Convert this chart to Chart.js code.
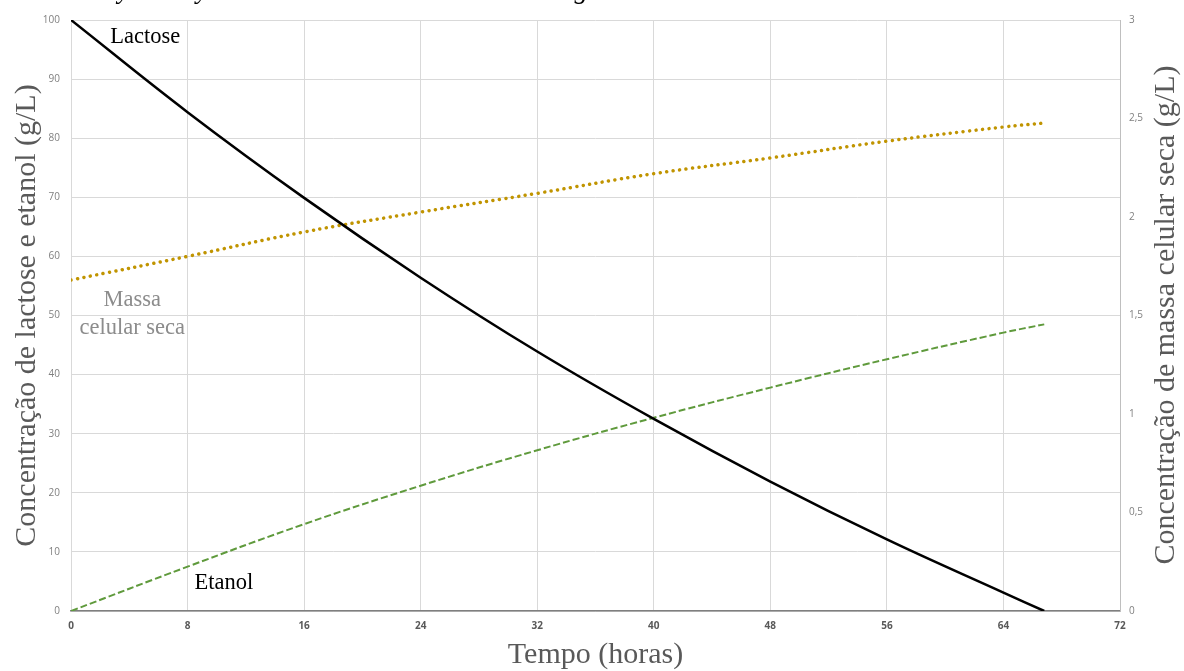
<!DOCTYPE html>
<html>
<head>
<meta charset="utf-8">
<script src="https://cdn.jsdelivr.net/npm/chart.js@4/dist/chart.umd.min.js"></script>
<style>
  html, body { margin: 0; padding: 0; background: #fff; }
  #wrap { width: 1184px; height: 671px; position: relative; }
</style>
</head>
<body>
<div id="wrap"><canvas id="grafico"></canvas></div>
<script>
// dados
var tempo = [0, 8, 16, 24, 32, 40, 48, 56, 64, 66.8];
var lactose = [100, 84.4, 69.9, 56.4, 43.9, 32.5, 21.9, 12.1, 3.1, 0];
var etanol = [0, 7.5, 14.7, 21.2, 27.2, 32.7, 37.8, 42.6, 47.1, 48.5];
var massaSeca = [1.68, 1.80, 1.924, 2.025, 2.12, 2.22, 2.30, 2.385, 2.457, 2.477];

var ticksTempo = [0, 8, 16, 24, 32, 40, 48, 56, 64, 72];

var titulo = "Kluyveromyces marxianus CCT 4086 em 100 g/L de substrato de soro de leite e lactose";
var rotulos = [
	{ texto: "Lactose", x: 5.1, y: 97.1, cor: "#000" },
	{ texto: "Massa", x: 4.2, y: 52.6, cor: "#8c8c8c" },
	{ texto: "celular seca", x: 4.2, y: 47.9, cor: "#8c8c8c" },
	{ texto: "Etanol", x: 10.5, y: 4.8, cor: "#000" }
];

function pares(xs, ys){
	return xs.map(function(x, i){ return { x: x, y: ys[i] }; });
}

var serif = "'Liberation Serif', 'Times New Roman', serif";

// textos extras: titulo cortado, rotulos das curvas, titulo do eixo direito
var textos = {
	id: "textos",
	afterDraw: function(chart){
		var c = chart.ctx;
		var sx = chart.scales.x, sy = chart.scales.y;
		c.save();
		c.textAlign = "center";
		c.textBaseline = "middle";
		c.font = "22.5px " + serif;
		rotulos.forEach(function(r){
			c.fillStyle = r.cor;
			c.fillText(r.texto, sx.getPixelForValue(r.x), sy.getPixelForValue(r.y));
		});

		// titulo do grafico, quase todo fora da area visivel
		c.font = "italic 27px " + serif;
		c.fillStyle = "#000";
		c.textAlign = "left";
		c.textBaseline = "alphabetic";
		c.fillText(titulo, 118 - c.measureText("Klu").width, -2);

		// titulo do eixo da direita, lido de baixo para cima
		c.font = "30px " + serif;
		c.fillStyle = "#595959";
		c.textAlign = "center";
		c.textBaseline = "middle";
		c.translate(1166, 315);
		c.rotate(-Math.PI / 2);
		c.fillText("Concentração de massa celular seca (g/L)", 0, 0);
		c.restore();
	}
};

var ctx = document.getElementById("grafico");

var grafico = new Chart(ctx, {
	type: "line",
	data: {
		datasets: [
			{
				label: "Lactose",
				data: pares(tempo, lactose),
				borderColor: "#000",
				borderWidth: 2.5,
				pointRadius: 0,
				tension: 0.4,
				yAxisID: "y"
			},
			{
				label: "Etanol",
				data: pares(tempo, etanol),
				borderColor: "#5f9a3c",
				borderWidth: 2,
				borderDash: [7, 3],
				pointRadius: 0,
				tension: 0.4,
				yAxisID: "y"
			},
			{
				label: "Massa celular seca",
				data: pares(tempo, massaSeca),
				borderColor: "#c09400",
				borderWidth: 3.5,
				borderDash: [0.01, 6.5],
				borderCapStyle: "round",
				pointRadius: 0,
				tension: 0.4,
				yAxisID: "y1"
			}
		]
	},
	options: {
		responsive: true,
		maintainAspectRatio: false,
		animation: false,
		layout: { padding: { top: 20, left: 0, right: 0, bottom: 0 } },
		plugins: {
			legend: { display: false },
			tooltip: { enabled: false }
		},
		scales: {
			x: {
				type: "linear",
				min: 0,
				max: 72,
				afterBuildTicks: function(s){ s.ticks = ticksTempo.map(function(v){ return { value: v }; }); },
				grid: { color: "#d9d9d9", drawTicks: false },
				border: { color: "#7f7f7f", width: 1.5 },
				ticks: {
					padding: 9,
					color: "#595959",
					font: { family: "'Open Sans', sans-serif", size: 10, weight: "bold" }
				},
				title: {
					display: true,
					text: "Tempo (horas)",
					color: "#595959",
					font: { family: serif, size: 30 },
					padding: { top: 0, bottom: -2 }
				},
				afterFit: function(s){ s.height = 60; }
			},
			y: {
				position: "left",
				min: 0,
				max: 100,
				ticks: {
					stepSize: 10,
					padding: 11,
					color: "#808080",
					font: { family: "'Open Sans', sans-serif", size: 10 }
				},
				grid: { color: "#d9d9d9", drawTicks: false },
				border: { display: false },
				title: {
					display: true,
					text: "Concentração de lactose e etanol (g/L)",
					color: "#595959",
					font: { family: serif, size: 30 },
					padding: { top: 9, bottom: 0 }
				},
				afterFit: function(s){ s.width = 71; }
			},
			y1: {
				position: "right",
				min: 0,
				max: 3,
				ticks: {
					stepSize: 0.5,
					padding: 9,
					color: "#808080",
					font: { family: "'Open Sans', sans-serif", size: 10 },
					callback: function(v){ return String(v).replace(".", ","); }
				},
				grid: { drawOnChartArea: false, drawTicks: false },
				border: { color: "#bfbfbf" },
				afterFit: function(s){ s.width = 64; }
			}
		}
	},
	plugins: [textos]
});
</script>
</body>
</html>
